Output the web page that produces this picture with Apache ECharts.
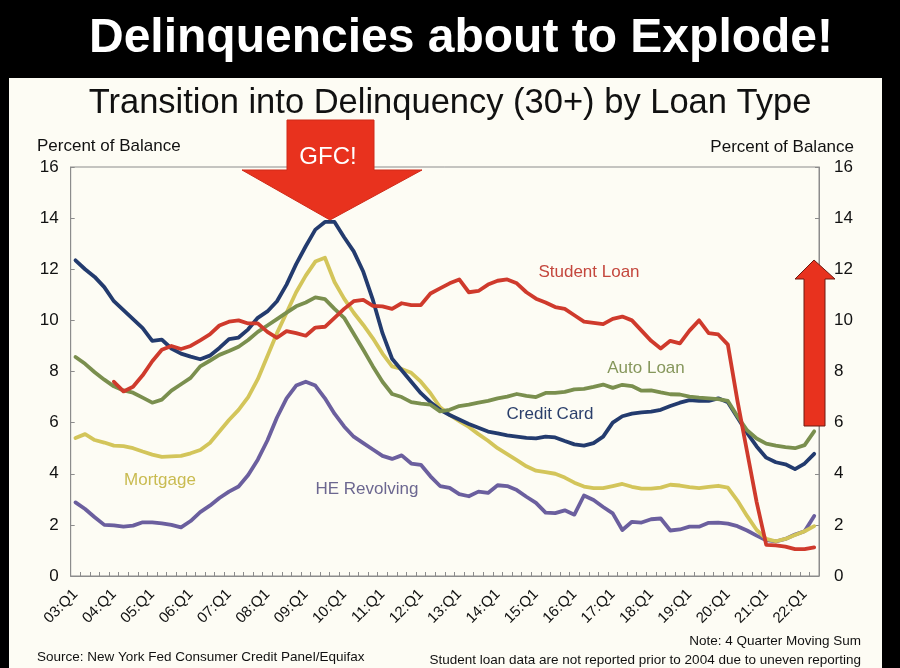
<!DOCTYPE html>
<html>
<head>
<meta charset="utf-8">
<script src="https://cdn.jsdelivr.net/npm/echarts@6/dist/echarts.min.js"></script>
<style>
html,body{margin:0;padding:0;background:#000;}
#c{width:900px;height:668px;}
</style>
</head>
<body>
<div id="c"></div>
<script>
// Quarter categories 03:Q1 .. 22:Q2
const quarters = [
 '03:Q1','03:Q2','03:Q3','03:Q4','04:Q1','04:Q2','04:Q3','04:Q4',
 '05:Q1','05:Q2','05:Q3','05:Q4','06:Q1','06:Q2','06:Q3','06:Q4',
 '07:Q1','07:Q2','07:Q3','07:Q4','08:Q1','08:Q2','08:Q3','08:Q4',
 '09:Q1','09:Q2','09:Q3','09:Q4','10:Q1','10:Q2','10:Q3','10:Q4',
 '11:Q1','11:Q2','11:Q3','11:Q4','12:Q1','12:Q2','12:Q3','12:Q4',
 '13:Q1','13:Q2','13:Q3','13:Q4','14:Q1','14:Q2','14:Q3','14:Q4',
 '15:Q1','15:Q2','15:Q3','15:Q4','16:Q1','16:Q2','16:Q3','16:Q4',
 '17:Q1','17:Q2','17:Q3','17:Q4','18:Q1','18:Q2','18:Q3','18:Q4',
 '19:Q1','19:Q2','19:Q3','19:Q4','20:Q1','20:Q2','20:Q3','20:Q4',
 '21:Q1','21:Q2','21:Q3','21:Q4','22:Q1','22:Q2'
];

const creditCard = [
 12.35,12.0,11.7,11.3,10.75,10.4,10.05,9.7,9.2,9.25,8.9,8.7,8.58,8.48,8.62,8.92,
 9.27,9.33,9.65,10.1,10.35,10.75,11.4,12.2,12.9,13.55,13.85,13.85,13.25,12.7,11.9,10.8,
 9.5,8.5,8.05,7.6,7.15,6.8,6.5,6.3,6.12,5.95,5.8,5.65,5.58,5.5,5.45,5.4,
 5.38,5.45,5.42,5.28,5.15,5.1,5.2,5.45,6.0,6.25,6.35,6.4,6.43,6.5,6.65,6.78,
 6.88,6.85,6.85,6.95,6.8,6.2,5.6,5.07,4.63,4.45,4.37,4.18,4.4,4.78
];

const studentLoan = [
 null,null,null,null,7.6,7.22,7.4,7.85,8.4,8.85,9.0,8.88,9.0,9.22,9.45,9.8,
 9.95,10.0,9.88,9.88,9.55,9.32,9.58,9.5,9.4,9.72,9.75,10.1,10.45,10.75,10.8,10.57,
 10.55,10.45,10.67,10.6,10.6,11.05,11.25,11.45,11.6,11.1,11.15,11.4,11.55,11.6,11.45,11.1,
 10.85,10.7,10.52,10.45,10.2,9.95,9.9,9.85,10.06,10.15,10.0,9.6,9.2,8.9,9.2,9.1,
 9.6,10.0,9.5,9.45,9.05,6.85,4.87,2.89,1.22,1.2,1.15,1.05,1.05,1.12
];

const autoLoan = [
 8.57,8.3,7.97,7.68,7.42,7.26,7.17,6.98,6.78,6.9,7.25,7.5,7.75,8.2,8.42,8.65,
 8.8,8.97,9.23,9.55,9.8,10.05,10.3,10.55,10.7,10.9,10.83,10.45,10.1,9.48,8.85,8.2,
 7.6,7.12,7.0,6.8,6.74,6.7,6.44,6.5,6.65,6.7,6.78,6.85,6.95,7.02,7.12,7.05,
 7.0,7.16,7.16,7.2,7.3,7.32,7.4,7.49,7.36,7.48,7.43,7.25,7.26,7.18,7.11,7.1,
 7.02,6.98,6.95,6.92,6.85,6.25,5.7,5.38,5.18,5.1,5.04,5.0,5.12,5.66
];

const mortgage = [
 5.4,5.55,5.32,5.22,5.1,5.08,5.0,4.87,4.75,4.66,4.68,4.7,4.8,4.93,5.2,5.65,
 6.1,6.5,7.0,7.7,8.6,9.5,10.3,11.1,11.75,12.3,12.45,11.5,10.85,10.3,9.82,9.3,
 8.7,8.2,8.1,7.95,7.6,7.15,6.6,6.3,6.06,5.83,5.55,5.29,5.0,4.77,4.53,4.29,
 4.12,4.06,4.0,3.85,3.65,3.5,3.44,3.44,3.52,3.6,3.49,3.42,3.42,3.46,3.57,3.54,
 3.48,3.44,3.49,3.53,3.46,2.95,2.35,1.8,1.45,1.36,1.45,1.6,1.75,1.95
];

const heRevolving = [
 2.88,2.62,2.3,2.0,1.98,1.93,1.97,2.1,2.1,2.06,2.0,1.9,2.15,2.5,2.75,3.05,
 3.3,3.5,3.95,4.55,5.3,6.2,6.95,7.45,7.6,7.45,6.95,6.35,5.85,5.45,5.2,4.95,
 4.7,4.58,4.72,4.4,4.35,3.9,3.52,3.45,3.2,3.12,3.3,3.25,3.55,3.52,3.36,3.1,
 2.86,2.48,2.46,2.57,2.4,3.15,2.97,2.7,2.45,1.8,2.12,2.09,2.22,2.25,1.78,1.82,
 1.93,1.93,2.08,2.09,2.05,1.95,1.78,1.58,1.4,1.35,1.45,1.62,1.75,2.35
];

const yTicks = {min: 0, max: 16, interval: 2};

const FONT = '"Liberation Sans", Arial, Helvetica, sans-serif';

const chart = echarts.init(document.getElementById('c'), null, {renderer: 'canvas'});

function yAxis(pos, margin) {
  return {
    type: 'value', position: pos, min: yTicks.min, max: yTicks.max, interval: yTicks.interval,
    axisLine: {show: true, lineStyle: {color: '#8c8c8c', width: 1}},
    axisTick: {show: true, inside: true, length: 4, lineStyle: {color: '#8c8c8c'}},
    axisLabel: {color: '#111', fontSize: 17, fontFamily: FONT, margin: margin},
    splitLine: {show: false}
  };
}

function line(name, data, color, z) {
  return {
    name: name, type: 'line', data: data, showSymbol: false, z: z,
    lineStyle: {color: color, width: 3.8, join: 'round', cap: 'round'},
    itemStyle: {color: color}, connectNulls: false
  };
}

const option = {
  animation: false,
  backgroundColor: '#000000',
  grid: {left: 70.7, right: 81, top: 167, bottom: 92, show: true,
         borderColor: '#8c8c8c', borderWidth: 1, backgroundColor: 'transparent'},
  xAxis: {
    type: 'category', data: quarters, boundaryGap: true,
    axisLine: {show: true, lineStyle: {color: '#8c8c8c', width: 1}},
    axisTick: {show: true, inside: true, length: 4, interval: 0, lineStyle: {color: '#8c8c8c'}},
    axisLabel: {interval: 3, rotate: 45, color: '#111', fontSize: 15, fontFamily: FONT, margin: 16}
  },
  yAxis: [yAxis('left', 12), yAxis('right', 15)],
  series: [
    line('HE Revolving', heRevolving, '#6b5f9e', 2),
    line('Mortgage', mortgage, '#d3c55a', 3),
    line('Credit Card', creditCard, '#233b6e', 4),
    line('Auto Loan', autoLoan, '#7a8f4e', 5),
    line('Student Loan', studentLoan, '#cf3a2c', 6)
  ],
  graphic: [
    {type: 'rect', z: -10, silent: true, shape: {x: 9, y: 78, width: 873, height: 590}, style: {fill: '#fdfcf4'}},
    {type: 'text', x: 461, y: 39, z: 10,
     style: {text: 'Delinquencies about to Explode!', fill: '#fff', font: 'bold 48px ' + FONT, textAlign: 'center', textVerticalAlign: 'middle'}},
    {type: 'text', x: 450, y: 103, z: 10,
     style: {text: 'Transition into Delinquency (30+) by Loan Type', fill: '#111', font: '34.5px ' + FONT, textAlign: 'center', textVerticalAlign: 'middle'}},
    {type: 'text', x: 37, y: 146, z: 10,
     style: {text: 'Percent of Balance', fill: '#111', font: '17px ' + FONT, textAlign: 'left', textVerticalAlign: 'middle'}},
    {type: 'text', x: 854, y: 147, z: 10,
     style: {text: 'Percent of Balance', fill: '#111', font: '17px ' + FONT, textAlign: 'right', textVerticalAlign: 'middle'}},
    // series labels
    {type: 'text', x: 589, y: 272, z: 10, style: {text: 'Student Loan', fill: '#c4473d', font: '17px ' + FONT, textAlign: 'center', textVerticalAlign: 'middle'}},
    {type: 'text', x: 646, y: 368, z: 10, style: {text: 'Auto Loan', fill: '#86975c', font: '17px ' + FONT, textAlign: 'center', textVerticalAlign: 'middle'}},
    {type: 'text', x: 550, y: 414, z: 10, style: {text: 'Credit Card', fill: '#2b3f6b', font: '17px ' + FONT, textAlign: 'center', textVerticalAlign: 'middle'}},
    {type: 'text', x: 160, y: 480, z: 10, style: {text: 'Mortgage', fill: '#c9bb50', font: '17px ' + FONT, textAlign: 'center', textVerticalAlign: 'middle'}},
    {type: 'text', x: 367, y: 489, z: 10, style: {text: 'HE Revolving', fill: '#6c6790', font: '17px ' + FONT, textAlign: 'center', textVerticalAlign: 'middle'}},
    // footnotes
    {type: 'text', x: 37, y: 657, z: 10, style: {text: 'Source: New York Fed Consumer Credit Panel/Equifax', fill: '#111', font: '13.5px ' + FONT, textAlign: 'left', textVerticalAlign: 'middle'}},
    {type: 'text', x: 861, y: 641, z: 10, style: {text: 'Note: 4 Quarter Moving Sum', fill: '#111', font: '13.5px ' + FONT, textAlign: 'right', textVerticalAlign: 'middle'}},
    {type: 'text', x: 861, y: 660, z: 10, style: {text: 'Student loan data are not reported prior to 2004 due to uneven reporting', fill: '#111', font: '13.5px ' + FONT, textAlign: 'right', textVerticalAlign: 'middle'}},
    // GFC arrow
    {type: 'polygon', z: 20, shape: {points: [[287,120],[374,120],[374,170],[422,170],[330,220],[242,170],[287,170]]},
     style: {fill: '#e8321e', stroke: '#d02a18', lineWidth: 1}},
    {type: 'text', x: 328, y: 157, z: 21, style: {text: 'GFC!', fill: '#fff', font: '24px ' + FONT, textAlign: 'center', textVerticalAlign: 'middle'}},
    // up arrow
    {type: 'polygon', z: 20, shape: {points: [[804,426],[825,426],[825,279],[835,279],[814,260],[795,279],[804,279]]},
     style: {fill: '#e8321e', stroke: '#6e1a10', lineWidth: 1}}
  ]
};
chart.setOption(option);
</script>
</body>
</html>
